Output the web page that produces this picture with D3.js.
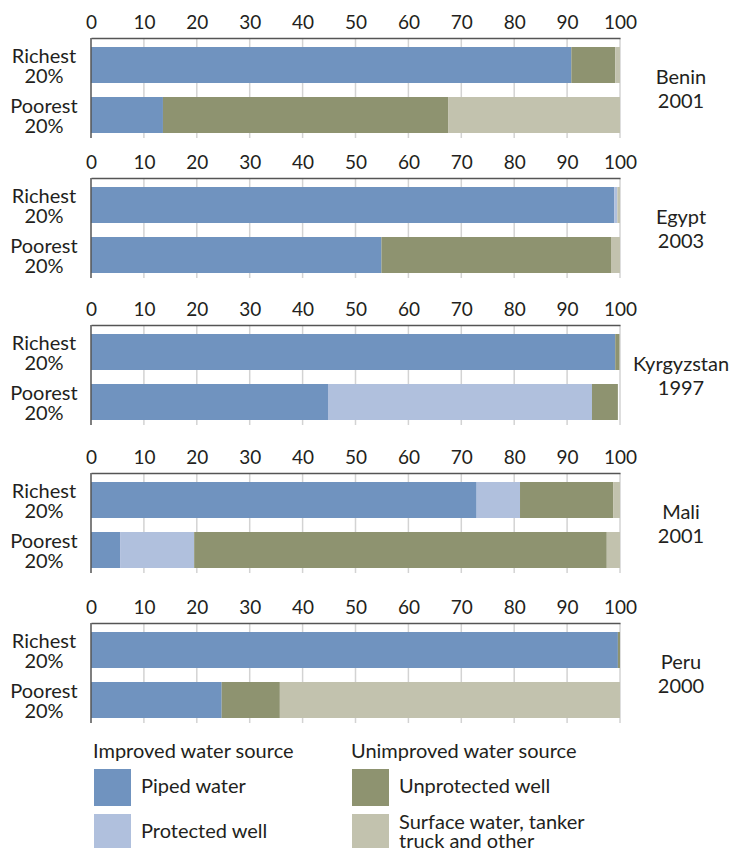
<!DOCTYPE html>
<html>
<head>
<meta charset="utf-8">
<script src="https://cdn.jsdelivr.net/npm/d3@7"></script>
<style>
  body { margin: 0; background: #fff; }
  text { font-family: Lato, "Open Sans", sans-serif; fill: #231f20; }
</style>
</head>
<body>
<div id="chart"></div>
<script>
// data (percent of households)
var countries = ["Benin", "Egypt", "Kyrgyzstan", "Mali", "Peru"];
var years = ["2001", "2003", "1997", "2001", "2000"];
var groups = ["Richest 20%", "Poorest 20%"];
// [richest, poorest] per country
var piped       = [[90.8, 13.6], [98.9, 54.9], [99.1, 44.8], [72.9, 5.5], [99.6, 24.7]];
var protectedW  = [[0, 0],       [0.6, 0],     [0, 49.9],    [8.2, 14.0], [0, 0]];
var unprotected = [[8.3, 53.9],  [0, 43.4],    [0.8, 4.9],   [17.6, 78.0], [0.4, 11.0]];
var surface     = [[0.9, 32.5],  [0.5, 1.7],   [0, 0],       [1.3, 2.5],  [0, 64.3]];
var ticks = [0, 10, 20, 30, 40, 50, 60, 70, 80, 90, 100];

var keys = ["piped", "protected", "unprotected", "surface"];
var colors = {piped: "#7093bf", protected: "#b0c0dd", unprotected: "#8e9370", surface: "#c2c2ae"};

var width = 733, height = 848;
var panelTops = [38, 178, 325, 473, 623];

var svg = d3.select("#chart").append("svg")
    .attr("width", width)
    .attr("height", height);

var x = d3.scaleLinear().domain([0, 100]).range([91, 620]);

var stack = d3.stack().keys(keys);

countries.forEach(function(c, i) {
  var top = panelTops[i];
  var y = d3.scaleBand().domain(groups)
      .range([top + 9, top + 95])
      .paddingInner(0.28);

  var rows = groups.map(function(g, j) {
    return {group: g, piped: piped[i][j], protected: protectedW[i][j],
            unprotected: unprotected[i][j], surface: surface[i][j]};
  });

  var g = svg.append("g");

  // gridlines
  g.selectAll(".grid")
    .data(ticks.slice(1))
    .enter().append("line")
      .attr("x1", function(d) { return x(d); })
      .attr("x2", function(d) { return x(d); })
      .attr("y1", top)
      .attr("y2", top + 100)
      .attr("stroke", "#d3d3d3")
      .attr("stroke-width", 1.5);

  // stacked bars
  g.selectAll(".layer")
    .data(stack(rows))
    .enter().append("g")
      .attr("fill", function(d) { return colors[d.key]; })
    .selectAll("rect")
    .data(function(d) { return d; })
    .enter().append("rect")
      .attr("x", function(d) { return x(d[0]); })
      .attr("width", function(d) { return x(d[1]) - x(d[0]); })
      .attr("y", function(d) { return y(d.data.group); })
      .attr("height", y.bandwidth());

  // top axis with tick labels
  var axis = g.append("g")
      .attr("transform", "translate(0," + top + ")")
      .call(d3.axisTop(x).tickValues(ticks).tickSize(0).tickPadding(9).tickFormat(d3.format("d")));
  axis.select(".domain").attr("stroke", "#555").attr("stroke-width", 1.5);
  axis.selectAll("text").style("font-size", "19px").style("font-family", "Lato, sans-serif").attr("fill", "#231f20");

  // left axis line
  g.append("line")
      .attr("x1", x(0)).attr("x2", x(0))
      .attr("y1", top).attr("y2", top + 100)
      .attr("stroke", "#555").attr("stroke-width", 1.5);

  // group labels
  groups.forEach(function(gr) {
    var parts = gr.split(" ");
    var cy = y(gr) + y.bandwidth() / 2;
    var t = g.append("text")
        .attr("text-anchor", "middle")
        .style("font-size", "20px");
    t.append("tspan").attr("x", 44).attr("y", cy - 2).text(parts[0]);
    t.append("tspan").attr("x", 44).attr("y", cy + 18).text(parts[1]);
  });

  // country label
  var ct = g.append("text")
      .attr("text-anchor", "middle")
      .style("font-size", "20px");
  ct.append("tspan").attr("x", 681).attr("y", top + 46).text(c);
  ct.append("tspan").attr("x", 681).attr("y", top + 70).text(years[i]);
});

// legend
var legendCols = [
  {title: "Improved water source", x: 93, items: [
    {key: "piped", label: ["Piped water"]},
    {key: "protected", label: ["Protected well"]}]},
  {title: "Unimproved water source", x: 351, items: [
    {key: "unprotected", label: ["Unprotected well"]},
    {key: "surface", label: ["Surface water, tanker", "truck and other"]}]}
];

var legend = svg.append("g");
legendCols.forEach(function(col) {
  legend.append("text")
      .attr("x", col.x)
      .attr("y", 758)
      .style("font-size", "20px")
      .text(col.title);
  col.items.forEach(function(it, k) {
    var sy = 769 + k * 45;
    legend.append("rect")
        .attr("x", col.x + 1)
        .attr("y", sy)
        .attr("width", 37)
        .attr("height", 37)
        .attr("fill", colors[it.key]);
    var t = legend.append("text").style("font-size", "20px");
    if (it.label.length === 1) {
      t.append("tspan").attr("x", col.x + 48).attr("y", sy + 24).text(it.label[0]);
    } else {
      t.append("tspan").attr("x", col.x + 48).attr("y", sy + 15).text(it.label[0]);
      t.append("tspan").attr("x", col.x + 48).attr("y", sy + 34).text(it.label[1]);
    }
  });
});
</script>
</body>
</html>
